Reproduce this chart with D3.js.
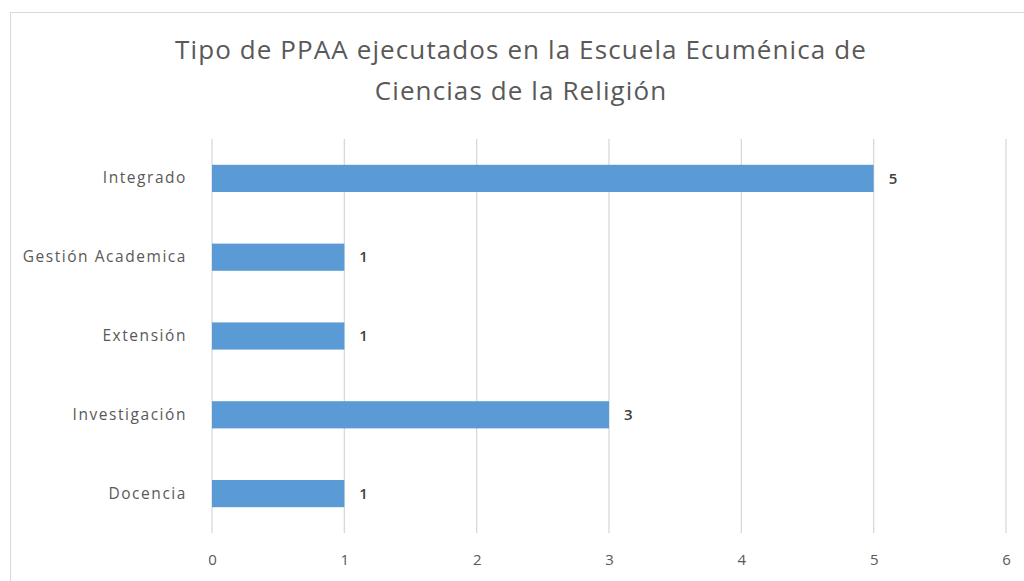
<!DOCTYPE html>
<html><head><meta charset="utf-8">
<script src="https://cdn.jsdelivr.net/npm/d3@7"></script>
<style>body{margin:0;background:#fff;}svg{display:block;}</style>
</head><body>
<svg id="c" width="1024" height="581"></svg>
<script>
const categories = ["Integrado", "Gestión Academica", "Extensión", "Investigación", "Docencia"];
const values = [5, 1, 1, 3, 1];
const xTicks = [0, 1, 2, 3, 4, 5, 6];
const titleLines = ["Tipo de PPAA ejecutados en la Escuela Ecuménica de", "Ciencias de la Religión"];

const svg = d3.select("#c");
const font = "'Open Sans', 'Noto Sans', sans-serif";
const textColor = "#595959";

svg.append("rect").attr("x", 10.5).attr("y", 12.5).attr("width", 1030).attr("height", 600)
  .attr("fill", "#fff").attr("stroke", "#d9d9d9");

const x = d3.scaleLinear().domain([0, 6]).range([212, 1006]);
const y = d3.scaleBand().domain(categories).range([139, 533]).paddingInner(0.655).paddingOuter(0.3275);

// gridlines
svg.append("g").selectAll("line").data(xTicks).join("line")
  .attr("x1", d => x(d)).attr("x2", d => x(d)).attr("y1", 139).attr("y2", 533)
  .attr("stroke", "#d9d9d9").attr("stroke-width", 1.3);

// bars
svg.append("g").selectAll("rect").data(categories).join("rect")
  .attr("x", x(0)).attr("y", d => y(d)).attr("width", (d, i) => x(values[i]) - x(0))
  .attr("height", y.bandwidth()).attr("fill", "#5b9bd5");

// value labels
svg.append("g").selectAll("text").data(categories).join("text")
  .attr("x", (d, i) => x(values[i]) + 15).attr("y", d => y(d) + y.bandwidth() / 2)
  .attr("dy", "0.35em").attr("font-family", font).attr("font-size", 15).attr("font-weight", 600)
  .attr("fill", "#404040")
  .text((d, i) => values[i]);

// y axis labels
const yAxis = d3.axisLeft(y).tickSize(0).tickPadding(25);
const gy = svg.append("g").attr("transform", `translate(${x(0)},0)`).call(yAxis);
gy.select(".domain").remove();
gy.selectAll("text").attr("font-family", font).attr("font-size", 15.5).attr("letter-spacing", 1.55)
  .attr("fill", textColor);

// x axis labels
const xAxis = d3.axisBottom(x).tickValues(xTicks).tickSize(0).tickPadding(21).tickFormat(d3.format("d"));
const gx = svg.append("g").attr("transform", "translate(0,533)").call(xAxis);
gx.select(".domain").remove();
gx.selectAll("text").attr("font-family", font).attr("font-size", 15).attr("fill", textColor);

// title
svg.append("g").selectAll("text").data(titleLines).join("text")
  .attr("x", 521).attr("y", (d, i) => 59 + i * 41).attr("text-anchor", "middle")
  .attr("font-family", font).attr("font-size", 26).attr("letter-spacing", 1.1).attr("fill", textColor)
  .text(d => d);
</script>
</body></html>
